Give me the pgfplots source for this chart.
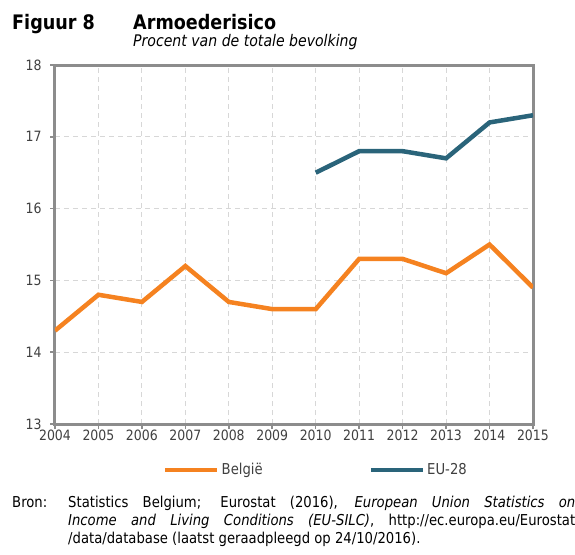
\documentclass[border=0pt]{standalone}
\usepackage{pgfplots}
\pgfplotsset{compat=1.18}
\usepackage{fontspec}
\setmainfont{DejaVu Sans}[FakeStretch=0.88]
\definecolor{cOrange}{RGB}{245,130,32}
\definecolor{cTeal}{RGB}{42,100,122}
\definecolor{cFrame}{RGB}{140,140,140}
\definecolor{cGrid}{RGB}{215,215,215}
\definecolor{cText}{RGB}{64,64,64}
\begin{document}
\begin{tikzpicture}[x=1pt,y=1pt]
\useasboundingbox (-55,-130) rectangle (520,424);
\begin{axis}[
  at={(0,0)}, anchor=south west,
  scale only axis, width=478pt, height=359pt,
  xmin=2004, xmax=2015, ymin=13, ymax=18,
  xtick={2004,...,2015}, ytick={13,...,18},
  /pgf/number format/assume math mode=true,
  /pgf/number format/1000 sep={},
  xtick pos=left, ytick pos=left,
  tick align=outside, major tick length=5pt,
  tick style={color=cFrame, line width=1.5pt},
  axis line style={color=cFrame, line width=3pt},
  grid=major,
  major grid style={color=cGrid, line width=1pt, dash pattern=on 5pt off 4pt},
  tick label style={font=\fontsize{14.2}{15}\selectfont, text=cText},
  xticklabel style={yshift=3pt},
  yticklabel style={xshift=-5pt},
  legend columns=2,
  legend style={at={(0.226,-0.128)}, anchor=west, draw=none, fill=none, inner sep=0pt,
    font=\fontsize{15}{17}\selectfont, text=cText,
    /tikz/every even column/.append style={column sep=104pt}},
  legend image code/.code={\draw[#1, line width=4.5pt] (0pt,0pt) -- (52pt,0pt);},
]
\addplot[cOrange, line width=4.5pt] coordinates {
 (2004,14.3) (2005,14.8) (2006,14.7) (2007,15.2) (2008,14.7) (2009,14.6)
 (2010,14.6) (2011,15.3) (2012,15.3) (2013,15.1) (2014,15.5) (2015,14.9)};
\addlegendentry{België}
\addplot[cTeal, line width=4.5pt] coordinates {
 (2010,16.5) (2011,16.8) (2012,16.8) (2013,16.7) (2014,17.2) (2015,17.3)};
\addlegendentry{EU-28}
\end{axis}
\node[anchor=base west, inner sep=0pt, font=\bfseries\fontsize{20}{22}\selectfont] at (-43,394) {Figuur 8};
\node[anchor=base west, inner sep=0pt, font=\bfseries\fontsize{20}{22}\selectfont] at (78,394) {Armoederisico};
\node[anchor=base west, inner sep=0pt, font=\itshape\fontsize{16}{18}\selectfont] at (78,377) {Procent van de totale bevolking};
\node[anchor=base west, inner sep=0pt, font=\fontsize{15}{18}\selectfont] at (-43,-83) {Bron:};
\node[anchor=base west, inner sep=0pt] at (13,-83) {\parbox[t]{507pt}{\fontsize{15}{18}\selectfont Statistics Belgium; Eurostat (2016), \textit{European Union Statistics on}\linebreak
\textit{Income and Living Conditions (EU-SILC)}, http://ec.europa.eu/Eurostat\linebreak
/data/database (laatst geraadpleegd op 24/10/2016).}};
\end{tikzpicture}
\end{document}
